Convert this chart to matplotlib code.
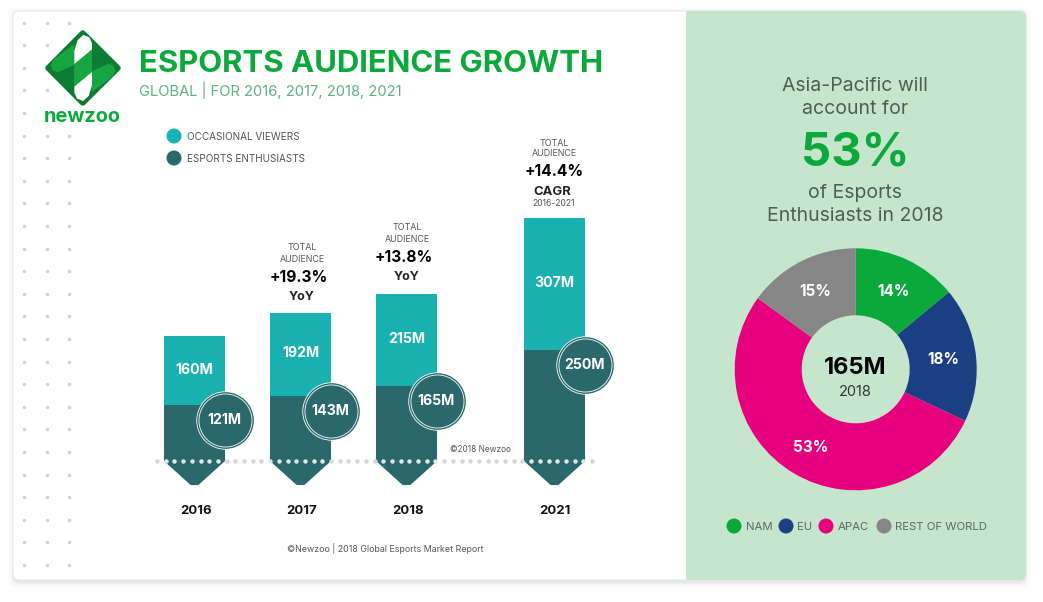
import numpy as np
import matplotlib
matplotlib.use("Agg")
import matplotlib.pyplot as plt
from matplotlib.patches import FancyBboxPatch, Rectangle, Polygon, Circle

W, H = 1043, 602

years = ["2016", "2017", "2018", "2021"]
occasional = [160, 192, 215, 307]
enthusiasts = [121, 143, 165, 250]

regions = ["NAM", "EU", "APAC", "REST OF WORLD"]
shares = [14, 18, 53, 15]

TEAL = "#19b2b0"
DARK = "#2a686b"
GREEN = "#0ba93c"
REGION_COLORS = ["#0ba93c", "#1a3f82", "#e6007e", "#868686"]
PANEL = "#c6e5cd"
FONT = "Inter"

fig = plt.figure(figsize=(W / 100, H / 100), dpi=100, facecolor="white")


def pixel_axes(zorder):
    ax = fig.add_axes([0, 0, 1, 1], zorder=zorder)
    ax.set_xlim(0, W)
    ax.set_ylim(H, 0)
    ax.axis("off")
    return ax


bg = pixel_axes(0)
top = pixel_axes(5)

# card with soft shadow
for grow, alpha in [(7, 0.012), (5, 0.02), (3, 0.03), (1.5, 0.04)]:
    bg.add_patch(FancyBboxPatch((13 - grow + 2, 11 - grow + 3), 1013 + 2 * grow - 4, 569 + 2 * grow - 2,
                                boxstyle="round,pad=0,rounding_size=7", fc="black", ec="none", alpha=alpha))
card = FancyBboxPatch((13, 11), 1013, 569, boxstyle="round,pad=0,rounding_size=6", fc="white", ec="#e8e8e8", lw=0.8)
bg.add_patch(card)
panel = Rectangle((686, 11), 340, 569, fc=PANEL, ec="none")
bg.add_patch(panel)
panel.set_clip_path(card)

# dot grid down the left side, skipping what the logo covers
grid_x = [24, 46.5, 69]
grid_y = 22.5 + 22.6 * np.arange(25)
for gx in grid_x:
    for gy in grid_y:
        if gx == 46.5 and gy in (grid_y[2], grid_y[4]):
            continue
        if gx == 69 and grid_y[1] <= gy <= grid_y[4]:
            continue
        bg.plot(gx, gy, "o", ms=2.6, color="#d2d2d2", mec="none")


# logo
def lz(pts):
    return [(30 + x / 3, 20 + y / 3) for x, y in pts]


def mirror(pts):
    return [(319 - x, 288 - y) for x, y in pts]


bg.add_patch(Polygon([(82.8, 33), (118, 68), (82.8, 103), (48, 68)], closed=True, fc="#0c7c33", ec="#0c7c33",
                     lw=4, joinstyle="round"))
light = [(62, 135), (72, 118), (133, 72), (133, 135), (82, 157), (68, 150)]
center = [(133, 132), (186, 88), (186, 156), (133, 200)]
white = [(133, 132), (133, 92), (143, 60), (160, 45), (178, 52), (186, 70), (186, 88)]
for shape, color in [(light, "#17a53f"), (center, "#17a53f"), (white, "white")]:
    bg.add_patch(Polygon(lz(shape), closed=True, fc=color, ec="none"))
    bg.add_patch(Polygon(lz(mirror(shape)), closed=True, fc=color, ec="none"))
bg.text(82.5, 117, "newzoo", ha="center", va="center", color=GREEN, fontsize=14.4, fontweight="bold", family=FONT)

# bars, with the value axis lined up to the picture
PX_PER_M = 0.429
BASE_Y = 457
bar_x = [194.5, 300.5, 406.5, 554.5]
BAR_W = 61
ax = fig.add_axes([0, 0, 1, 1], zorder=2)
ax.patch.set_alpha(0)
ax.set_xlim(0, W)
ax.set_ylim(-(H - BASE_Y) / PX_PER_M, BASE_Y / PX_PER_M)
ax.axis("off")

ax.bar(bar_x, enthusiasts, width=BAR_W, color=DARK, linewidth=0)
ax.bar(bar_x, occasional, width=BAR_W, bottom=enthusiasts, color=TEAL, linewidth=0)

for x in bar_x:
    ax_pts = [(x - 28.5, 455), (x + 28.5, 455), (x + 28.5, 460), (x + 3, 483), (x - 3, 483), (x - 28.5, 460)]
    bg.add_patch(Polygon(ax_pts, closed=True, fc=DARK, ec=DARK, lw=3, joinstyle="round"))

for x, occ, ent in zip(bar_x, occasional, enthusiasts):
    ax.text(x, ent + occ / 2 + 1 / PX_PER_M, f"{occ}M", ha="center", va="center", color="white", fontsize=10.2,
            fontweight="bold", family=FONT)
    cx, cy = x + 30, ent - 15 / PX_PER_M
    ax.scatter([cx], [cy], s=(2 * 21.0) ** 2, color="white", linewidths=0, zorder=3)
    ax.scatter([cx], [cy], s=(2 * 20.4) ** 2, color=DARK, linewidths=0, zorder=3)
    ax.scatter([cx], [cy], s=(2 * 19.4) ** 2, color="white", linewidths=0, zorder=3)
    ax.scatter([cx], [cy], s=(2 * 18.8) ** 2, color=DARK, linewidths=0, zorder=3)
    ax.text(cx, cy, f"{ent}M", ha="center", va="center", color="white", fontsize=10.2, fontweight="bold",
            family=FONT, zorder=4)

# dotted baseline
for dx in 157 + 8.7 * np.arange(51):
    on_bar = any(abs(dx - x) < BAR_W / 2 for x in bar_x)
    top.plot(dx, 461, "o", ms=3.2, mec="none", color="#dfe9e9" if on_bar else "#d6d6d6")


def label(x, y, s, size, color="black", weight="normal", ha="center"):
    top.text(x, y + 1, s, ha=ha, va="center", fontsize=size, color=color, fontweight=weight, family=FONT)


label(139, 63, "ESPORTS AUDIENCE GROWTH", 22.4, GREEN, "bold", "left")
label(139, 89, "GLOBAL | FOR 2016, 2017, 2018, 2021", 10.6, "#5cb27e", "normal", "left")

top.add_patch(Circle((174, 136), 7.5, fc=TEAL, ec="none"))
top.add_patch(Circle((174, 158), 7.5, fc=DARK, ec="none"))
label(187, 136, "OCCASIONAL VIEWERS", 7.2, "#555555", "normal", "left")
label(187, 158, "ESPORTS ENTHUSIASTS", 7.2, "#555555", "normal", "left")

for x, y1, y2 in [(302, 247, 258), (407, 227, 238), (554, 142, 152)]:
    label(x, y1, "TOTAL", 6.4, "#555555")
    label(x, y2, "AUDIENCE", 6.4, "#555555")
label(299, 276, "+19.3%", 11.2, "black", "bold")
label(302, 296, "YoY", 9, "#222222", "bold")
label(404, 256, "+13.8%", 11.2, "black", "bold")
label(407, 276, "YoY", 9, "#222222", "bold")
label(554, 171, "+14.4%", 11.2, "black", "bold")
label(552, 191, "CAGR", 9.4, "#222222", "bold")
label(554, 203, "2016-2021", 6.2, "#555555")

for y_label, x in zip(years, [196, 302, 408, 555]):
    label(x, 510, y_label, 9.5, "#111111", "bold")

label(480, 449, "©2018 Newzoo", 6, "#555555")
label(385, 547, "©Newzoo | 2018 Global Esports Market Report", 6.4, "#555555")

# right panel
label(855, 85, "Asia-Pacific will", 14, "#4c5f56")
label(855, 108, "account for", 14, "#4c5f56")
label(855, 152, "53%", 34, GREEN, "bold")
label(855, 192, "of Esports", 14, "#4c5f56")
label(855, 215, "Enthusiasts in 2018", 14, "#4c5f56")

# donut
R = 121
CX, CY = 855.7, 369.3
ax_pie = fig.add_axes([(CX - R) / W, (H - CY - R) / H, 2 * R / W, 2 * R / H], zorder=3)
ax_pie.pie(shares, colors=REGION_COLORS, startangle=90, counterclock=False, radius=1,
           wedgeprops={"width": 67 / 121, "linewidth": 0})
ax_pie.set_xlim(-1, 1)
ax_pie.set_ylim(-1, 1)
ax_pie.axis("off")

for (x, y), share in zip([(893, 290), (943, 359), (811, 446), (815, 291)], shares):
    label(x, y, f"{share}%", 11, "white", "bold")
label(855.5, 367, "165M", 17, "black", "bold")
label(855.5, 391, "2018", 10.5, "#333333")

for cx, tx, name, color in zip([734, 786, 826, 884], [746, 797, 838, 895], regions, REGION_COLORS):
    top.add_patch(Circle((cx, 526), 7.5, fc=color, ec="none"))
    label(tx, 525.5, name, 8.2, "#5a6a62", "normal", "left")

fig.savefig("out.png", dpi=100)
